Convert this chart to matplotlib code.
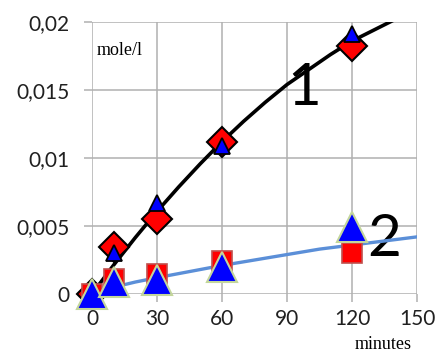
import matplotlib
matplotlib.use("Agg")
from matplotlib import pyplot as plt

# series 1 (upper curve)
t1 = [0, 10, 30, 60, 120]
diamond_1 = [0.0, 0.00346, 0.0055, 0.0112, 0.0182]
triangle_1 = [0.0, 0.00305, 0.0067, 0.0109, 0.0191]

# series 2 (lower curve)
t2 = [0, 10, 30, 60, 120]
square_2 = [0.0, 0.0011, 0.0015, 0.0024, 0.0030]
triangle_2 = [0.0, 0.00085, 0.0010, 0.0020, 0.0049]

# trend lines
fit1_t = [0, 10, 20, 30, 40, 50, 60, 70, 80, 90, 100, 110, 120, 130, 140, 150]
fit1_y = [0.0, 0.00213, 0.00415, 0.00607, 0.00787, 0.00958, 0.0112, 0.0127,
          0.0141, 0.0154, 0.0165, 0.0176, 0.0186, 0.0194, 0.0202, 0.0208]
fit2_t = [10, 20, 30, 40, 50, 60, 75, 90, 105, 120, 135, 150]
fit2_y = [0.0005, 0.00088, 0.0012, 0.0015, 0.0018, 0.0021, 0.0025, 0.0029,
          0.0033, 0.0036, 0.0039, 0.0042]

x_ticks = [0, 30, 60, 90, 120, 150]
y_ticks = [0, 0.005, 0.01, 0.015, 0.02]
y_labels = ["0", "0,005", "0,01", "0,015", "0,02"]

plt.rcParams["font.family"] = ["Lato", "DejaVu Sans"]

fig = plt.figure(figsize=(4.36, 3.54), dpi=100)
ax = fig.add_axes([92 / 436, 1 - 294 / 354, 325 / 436, 272 / 354])

ax.set_xlim(0, 150)
ax.set_ylim(0, 0.02)
ax.set_xticks(x_ticks)
ax.set_yticks(y_ticks)
ax.set_yticklabels(y_labels)
for s in ax.spines.values():
    s.set_visible(False)
ax.grid(True, color="#b0b0b0", linewidth=1.1)
ax.set_axisbelow(True)
ax.tick_params(axis="both", length=6, width=1.1, color="#b0b0b0",
               labelsize=15, labelcolor="#202020")
ax.tick_params(axis="y", pad=10)
ax.tick_params(axis="x", pad=5)

ax.text(97.8, 0.0139, "1", fontsize=42, color="black", ha="center", va="baseline", zorder=1)
ax.text(134.8, 0.0028, "2", fontsize=42, color="black", ha="center", va="baseline", zorder=1)

ax.plot(fit1_t, fit1_y, color="black", linewidth=2.6, zorder=2)
ax.plot(fit2_t, fit2_y, color="#5b8fd8", linewidth=2.4, zorder=2)

ax.plot(t1, diamond_1, linestyle="none", marker="D", markersize=15,
        markerfacecolor="#ff0000", markeredgecolor="black", markeredgewidth=1.5,
        clip_on=False, zorder=3)
ax.plot(t1, triangle_1, linestyle="none", marker="^", markersize=11,
        markerfacecolor="#0000ff", markeredgecolor="black", markeredgewidth=1.3,
        clip_on=False, zorder=4)
ax.plot(t2, square_2, linestyle="none", marker="s", markersize=14,
        markerfacecolor="#ff0000", markeredgecolor="#c0504d", markeredgewidth=1.2,
        clip_on=False, zorder=5)
ax.plot(t2, triangle_2, linestyle="none", marker="^", markersize=21,
        markerfacecolor="#0000ff", markeredgecolor="#c3d69b", markeredgewidth=1.5,
        clip_on=False, zorder=6)

fig.text(97 / 436, 1 - 55 / 354, "mole/l", fontsize=13, family="Liberation Serif")
fig.text(383 / 436, 1 - 349 / 354, "minutes", fontsize=13, family="Liberation Serif",
         ha="center", va="baseline")

fig.savefig("out.png", dpi=100)
